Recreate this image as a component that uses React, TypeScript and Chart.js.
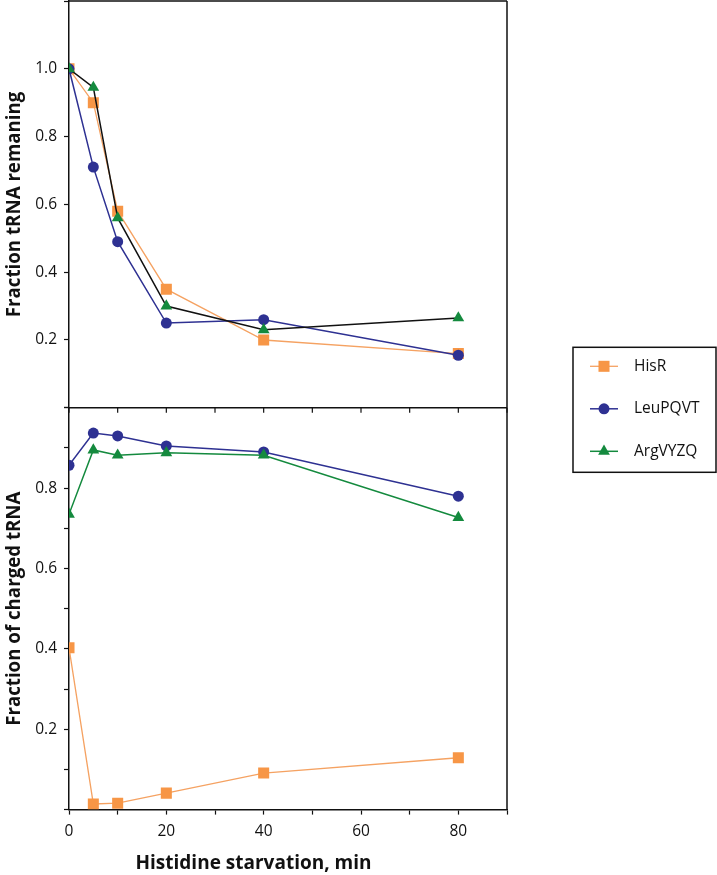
import React, { useEffect, useRef } from 'react';
import { Chart, registerables } from 'chart.js';
import { drawPoint } from 'chart.js/helpers';

Chart.register(...registerables);

// ---- data ----
const timePoints = [0, 5, 10, 20, 40, 80];
const seriesNames = ['HisR', 'LeuPQVT', 'ArgVYZQ'];
// top panel: fraction tRNA remaining
const remainingHisR = [1.0, 0.9, 0.58, 0.35, 0.2, 0.16];
const remainingLeu = [1.0, 0.71, 0.49, 0.25, 0.26, 0.155];
const remainingArg = [1.0, 0.945, 0.56, 0.3, 0.23, 0.265];
// bottom panel: fraction of charged tRNA
const chargedHisR = [0.403, 0.014, 0.016, 0.041, 0.091, 0.129];
const chargedLeu = [0.857, 0.937, 0.93, 0.905, 0.89, 0.78];
const chargedArg = [0.735, 0.895, 0.882, 0.888, 0.882, 0.727];
// tick labels
const xTickLabels = [0, 20, 40, 60, 80];
const topTickLabels = [0.2, 0.4, 0.6, 0.8, 1.0];
const bottomTickLabels = [0.2, 0.4, 0.6, 0.8];

const ORANGE = '#F79646';
const ORANGE_LINE = '#F5A262';
const BLUE = '#2E3192';
const GREEN = '#148A3E';
const BLACK = '#111111';
const FONT = "'Open Sans', 'Noto Sans', sans-serif";

const styles: Record<string, { color: string; style: string; radius: number }> = {
  HisR: { color: ORANGE, style: 'rect', radius: 7.8 },
  LeuPQVT: { color: BLUE, style: 'circle', radius: 5.5 },
  ArgVYZQ: { color: GREEN, style: 'triangle', radius: 6.8 },
};

function makeDataset(name: string, values: number[], axis: string, lineColor: string, inLegend: boolean) {
  const s = styles[name];
  return {
    label: name,
    inLegend,
    data: timePoints.map((x, i) => ({ x, y: values[i] })),
    yAxisID: axis,
    borderColor: lineColor,
    backgroundColor: s.color,
    pointBackgroundColor: s.color,
    pointBorderColor: s.color,
    pointBorderWidth: 0,
    pointStyle: s.style,
    pointRadius: s.radius,
    borderWidth: name === 'HisR' ? 1.3 : 1.5,
    tension: 0,
    fill: false,
  };
}

const round1 = (v: number) => Math.round(v * 10) / 10;

const framePlugin = {
  id: 'frame',
  afterDatasetsDraw(chart: any) {
    const { ctx, chartArea, scales } = chart;
    const yTop = scales.yTop;
    const x = scales.x;
    ctx.save();
    ctx.strokeStyle = BLACK;
    ctx.lineWidth = 1.5;
    ctx.beginPath();
    ctx.moveTo(chartArea.left, chartArea.top);
    ctx.lineTo(chartArea.right, chartArea.top);
    ctx.moveTo(chartArea.right, chartArea.top);
    ctx.lineTo(chartArea.right, chartArea.bottom);
    ctx.moveTo(chartArea.left, yTop.bottom);
    ctx.lineTo(chartArea.right, yTop.bottom);
    ctx.stroke();
    ctx.lineWidth = 1.2;
    ctx.beginPath();
    x.ticks.forEach((t: any) => {
      const px = x.getPixelForValue(t.value);
      ctx.moveTo(px, yTop.bottom);
      ctx.lineTo(px, yTop.bottom + 5);
    });
    ctx.stroke();
    ctx.restore();
  },
};

const legendPlugin = {
  id: 'boxLegend',
  afterDraw(chart: any) {
    const { ctx, chartArea } = chart;
    const left = chartArea.right + 66;
    const top = (chartArea.top + chartArea.bottom) / 2 - 58;
    const w = 143;
    const h = 125;
    ctx.save();
    ctx.strokeStyle = BLACK;
    ctx.lineWidth = 1.5;
    ctx.strokeRect(left, top, w, h);
    const items = seriesNames.map((n) => chart.data.datasets.find((d: any) => d.label === n && d.inLegend));
    items.forEach((d: any, i: number) => {
      const y = top + 19 + i * 42.5;
      ctx.strokeStyle = d.borderColor;
      ctx.lineWidth = d.borderWidth;
      ctx.beginPath();
      ctx.moveTo(left + 17, y);
      ctx.lineTo(left + 45, y);
      ctx.stroke();
      ctx.fillStyle = d.pointBackgroundColor;
      ctx.strokeStyle = d.pointBorderColor;
      drawPoint(ctx, { pointStyle: d.pointStyle, radius: d.pointRadius, rotation: 0, borderWidth: 0 }, left + 31, y);
      ctx.fillStyle = BLACK;
      ctx.font = `15.5px ${FONT}`;
      ctx.textBaseline = 'middle';
      ctx.textAlign = 'left';
      ctx.fillText(d.label, left + 61, y);
    });
    ctx.restore();
  },
};

function fixAxis(scale: any) {
  scale.width = 69;
  scale.paddingTop = 0;
  scale.paddingBottom = 0;
}

export default function App() {
  const ref = useRef<HTMLCanvasElement>(null);
  useEffect(() => {
    Chart.defaults.font.family = FONT;
    Chart.defaults.color = BLACK;
    const tickStyle = {
      color: BLACK,
      font: { size: 15.5, family: FONT },
    };
    const gridStyle = {
      drawOnChartArea: false,
      drawTicks: true,
      tickLength: 5,
      tickColor: BLACK,
      tickWidth: 1.2,
    };
    const chart = new Chart(ref.current!, {
      type: 'line',
      data: {
        datasets: [
          makeDataset('ArgVYZQ', remainingArg, 'yTop', BLACK, false),
          makeDataset('LeuPQVT', remainingLeu, 'yTop', BLUE, false),
          makeDataset('HisR', remainingHisR, 'yTop', ORANGE_LINE, false),
          makeDataset('ArgVYZQ', chargedArg, 'yBot', GREEN, true),
          makeDataset('LeuPQVT', chargedLeu, 'yBot', BLUE, true),
          makeDataset('HisR', chargedHisR, 'yBot', ORANGE_LINE, true),
        ] as any,
      },
      options: {
        animation: false,
        responsive: true,
        maintainAspectRatio: false,
        layout: { autoPadding: false, padding: { top: 1, right: 210, bottom: 0, left: 0 } },
        plugins: {
          legend: { display: false },
          tooltip: { enabled: false },
          title: {
            display: true,
            position: 'bottom',
            text: 'Histidine starvation, min',
            color: BLACK,
            font: { size: 19, weight: 'bold', family: FONT },
            padding: { top: 4, bottom: 0 },
          },
        },
        scales: {
          x: {
            type: 'linear',
            min: 0,
            max: 90,
            ticks: {
              ...tickStyle,
              stepSize: 10,
              padding: 7.5,
              autoSkip: false,
              maxRotation: 0,
              callback: (v: any) => (xTickLabels.includes(Math.round(v)) ? String(Math.round(v)) : ''),
            },
            grid: gridStyle,
            border: { display: true, color: BLACK, width: 1.5 },
          },
          yBot: {
            type: 'linear',
            position: 'left',
            stack: 'panels',
            stackWeight: 402,
            min: 0,
            max: 1.0,
            ticks: {
              ...tickStyle,
              stepSize: 0.1,
              padding: 7,
              autoSkip: false,
              callback: (v: any) => (bottomTickLabels.includes(round1(v)) ? round1(v).toFixed(1) : ''),
            },
            grid: gridStyle,
            border: { display: true, color: BLACK, width: 1.5 },
            title: {
              display: true,
              text: 'Fraction of charged tRNA',
              color: BLACK,
              font: { size: 18.7, weight: 'bold', family: FONT },
              padding: { top: 3, bottom: 0 },
            },
            afterFit: fixAxis,
          },
          yTop: {
            type: 'linear',
            position: 'left',
            stack: 'panels',
            stackWeight: 407,
            min: 0,
            max: 1.2,
            ticks: {
              ...tickStyle,
              stepSize: 0.2,
              padding: 7,
              autoSkip: false,
              callback: (v: any) => (topTickLabels.includes(round1(v)) ? round1(v).toFixed(1) : ''),
            },
            grid: gridStyle,
            border: { display: true, color: BLACK, width: 1.5 },
            title: {
              display: true,
              text: 'Fraction tRNA remaning',
              color: BLACK,
              font: { size: 18.7, weight: 'bold', family: FONT },
              padding: { top: 3, bottom: 0 },
            },
            afterFit: fixAxis,
          },
        },
      } as any,
      plugins: [framePlugin, legendPlugin],
    });
    return () => chart.destroy();
  }, []);
  return (
    <div style={{ position: 'absolute', left: 0, top: 0, width: 717, height: 875 }}>
      <canvas ref={ref} />
    </div>
  );
}
